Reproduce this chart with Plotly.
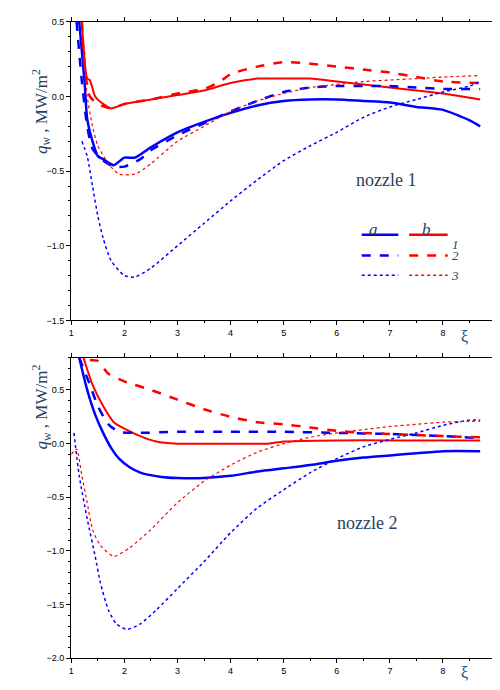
import plotly.graph_objects as go

# ---- nozzle 1 ----
t_a1_x=[1.15,1.25,1.3,1.4,1.5,1.6,1.8,2.0,2.2,2.5,3,3.5,4,4.5,5,5.5,6,6.5,7,7.5,8,8.5,8.7]
t_a1_y=[0.5,0.1,-0.15,-0.3,-0.4,-0.42,-0.46,-0.41,-0.41,-0.34,-0.24,-0.17,-0.11,-0.06,-0.03,-0.02,-0.02,-0.03,-0.04,-0.07,-0.09,-0.16,-0.2]
t_b1_x=[1.2,1.3,1.35,1.45,1.6,1.75,2,2.5,3,3.5,4,4.5,5,5.5,6,6.5,7,7.5,8,8.7]
t_b1_y=[0.5,0.12,0.11,0.0,-0.05,-0.08,-0.05,-0.02,0.01,0.04,0.09,0.12,0.12,0.12,0.1,0.08,0.06,0.04,0.02,-0.02]
t_a2_x=[1.1,1.2,1.3,1.4,1.6,1.8,2.0,2.3,2.5,3,3.5,4,4.5,5,5.5,6,6.5,7,7.5,8,8.7]
t_a2_y=[0.5,0.1,-0.2,-0.35,-0.43,-0.47,-0.47,-0.42,-0.36,-0.26,-0.18,-0.1,-0.03,0.03,0.06,0.07,0.07,0.07,0.06,0.05,0.05]
t_b2_x=[1.2,1.25,1.35,1.5,1.75,2,2.5,3,3.5,3.8,4,4.5,5,5.5,6,6.5,7,7.5,8,8.7]
t_b2_y=[0.5,0.2,0.0,-0.05,-0.08,-0.05,-0.02,0.02,0.05,0.1,0.15,0.2,0.23,0.22,0.2,0.18,0.16,0.13,0.1,0.09]
t_a3_x=[1.2,1.3,1.4,1.5,1.6,1.75,2,2.2,2.5,3,3.5,4,4.5,5,5.5,6,6.5,7,7.5,8,8.5,8.7]
t_a3_y=[-0.3,-0.4,-0.6,-0.8,-0.95,-1.1,-1.2,-1.21,-1.15,-1.0,-0.85,-0.7,-0.56,-0.43,-0.33,-0.24,-0.14,-0.07,-0.02,0.03,0.07,0.1]
t_b3_x=[1.25,1.3,1.4,1.5,1.7,1.9,2.2,2.5,3,3.5,4,4.5,5,5.5,6,6.5,7,7.5,8,8.7]
t_b3_y=[0.3,0.0,-0.2,-0.33,-0.45,-0.52,-0.52,-0.45,-0.3,-0.2,-0.1,-0.03,0.02,0.06,0.08,0.1,0.11,0.12,0.13,0.14]

# ---- nozzle 2 ----
m_a1_x=[1.15,1.3,1.45,1.6,1.75,1.9,2.1,2.3,2.7,3,3.5,4,4.5,5,5.5,6,6.5,7,7.5,8,8.7]
m_a1_y=[0.8,0.5,0.27,0.1,-0.04,-0.14,-0.22,-0.27,-0.31,-0.32,-0.32,-0.3,-0.26,-0.23,-0.2,-0.16,-0.13,-0.11,-0.09,-0.07,-0.07]
m_b1_x=[1.23,1.4,1.6,1.8,2,2.3,2.6,3,4,4.7,5,6,7,8.7]
m_b1_y=[0.8,0.55,0.35,0.2,0.14,0.07,0.02,0.0,0.0,0.0,0.02,0.03,0.03,0.03]
m_a2_x=[1.15,1.35,1.5,1.7,1.9,2.2,3,4,5,6,7,8,8.7]
m_a2_y=[0.8,0.55,0.35,0.18,0.11,0.1,0.11,0.11,0.11,0.1,0.09,0.07,0.05]
m_b2_x=[1.35,1.5,1.7,2,2.5,3,3.5,4,4.5,5,5.5,6,6.5,7,7.5,8,8.7]
m_b2_y=[0.78,0.77,0.65,0.58,0.5,0.41,0.32,0.25,0.2,0.18,0.15,0.12,0.1,0.09,0.08,0.07,0.06]
m_a3_x=[1.05,1.15,1.3,1.45,1.55,1.7,1.85,2.05,2.3,2.6,3,3.5,4,4.5,5,5.5,6,6.5,7,7.5,8,8.5,8.7]
m_a3_y=[0.1,-0.3,-0.7,-1.05,-1.3,-1.55,-1.68,-1.73,-1.68,-1.55,-1.35,-1.1,-0.83,-0.6,-0.43,-0.27,-0.14,-0.03,0.04,0.1,0.17,0.22,0.22]
m_b3_x=[1.0,1.1,1.2,1.3,1.4,1.55,1.8,2.1,2.5,3,3.5,4,4.5,5,5.5,6,6.5,7,7.5,8,8.7]
m_b3_y=[-0.1,-0.05,-0.3,-0.55,-0.8,-0.95,-1.05,-0.97,-0.8,-0.55,-0.35,-0.2,-0.08,0.0,0.06,0.1,0.13,0.16,0.18,0.2,0.21]

BLUE="#0000ff"; RED="#ff0000"
fig=go.Figure()
def add(x,y,c,dash,w,ax):
    fig.add_trace(go.Scatter(x=x,y=y,mode="lines",line=dict(color=c,dash=dash,width=w,shape="spline",smoothing=0.6),
                             xaxis="x" if ax==1 else "x2", yaxis="y" if ax==1 else "y2",showlegend=False,hoverinfo="skip"))
for ax,s in ((1,"t"),(2,"m")):
    g=globals()
    add(g[s+"_a1_x"],g[s+"_a1_y"],BLUE,"solid",2.5,ax)
    add(g[s+"_b1_x"],g[s+"_b1_y"],RED,"solid",2,ax)
    add(g[s+"_a2_x"],g[s+"_a2_y"],BLUE,"dash",2.5,ax)
    add(g[s+"_b2_x"],g[s+"_b2_y"],RED,"dash",2.5,ax)
    add(g[s+"_a3_x"],g[s+"_a3_y"],BLUE,"dot",1.5,ax)
    add(g[s+"_b3_x"],g[s+"_b3_y"],RED,"dot",1.2,ax)

tickf=dict(family="Liberation Sans",size=9,color="black")
common=dict(showline=True,linecolor="black",linewidth=1.2,mirror="ticks",ticks="outside",ticklen=4,
            tickcolor="black",showgrid=False,zeroline=False,tickfont=tickf)
xd=[0.122,0.982]
fig.update_layout(width=500,height=690,margin=dict(l=0,r=0,t=0,b=0),plot_bgcolor="white",paper_bgcolor="white",
    xaxis=dict(domain=xd,range=[1,9],dtick=1,anchor="y",minor=dict(ticks="outside",ticklen=2,tickcolor="black",dtick=0.5),**common),
    yaxis=dict(domain=[0.548,0.987],range=[-1.5,0.5],dtick=0.5,tickformat=".1f",anchor="x",minor=dict(ticks="outside",ticklen=2,tickcolor="black",dtick=0.1),**common),
    xaxis2=dict(domain=xd,range=[1,9],dtick=1,anchor="y2",minor=dict(ticks="outside",ticklen=2,tickcolor="black",dtick=0.5),**common),
    yaxis2=dict(domain=[0.051,0.493],range=[-2.0,0.8],dtick=0.5,tickformat=".1f",anchor="x2",minor=dict(ticks="outside",ticklen=2,tickcolor="black",dtick=0.1),**common))

serif="Liberation Serif"
ytitle="<i>q</i><sub>w</sub> , MW/m<sup>2</sup>"
ann=[
 dict(x=16/500,y=1-55/690,text=ytitle,textangle=-90,font=dict(family=serif,size=17)),
 dict(x=16/500,y=1-400/690,text=ytitle,textangle=-90,font=dict(family=serif,size=17)),
 dict(x=465/500,y=1-328/690,text="ξ",font=dict(family=serif,size=16)),
 dict(x=465/500,y=1-680/690,text="ξ",font=dict(family=serif,size=16)),
 dict(x=412/500,y=1-157/690,text="nozzle 1",font=dict(family=serif,size=18)),
 dict(x=393/500,y=1-530/690,text="nozzle 2",font=dict(family=serif,size=18)),
 dict(x=373/500,y=1-208/690,text="<i>a</i>",font=dict(family=serif,size=17)),
 dict(x=427/500,y=1-208/690,text="<i>b</i>",font=dict(family=serif,size=17)),
]
for i,yy in enumerate((225,246,266)):
    ann.append(dict(x=455/500,y=1-yy/690,text="<i>%d</i>"%(i+1),font=dict(family=serif,size=13)))
for a in ann:
    a.update(xref="paper",yref="paper",showarrow=False)
fig.update_layout(annotations=ann)
shapes=[]
for yy,dash,w in ((225,"solid",2.5),(246,"dash",2.5),(266,"dot",1.5)):
    for x0,x1,c in ((355,392,BLUE),(403,442,RED)):
        shapes.append(dict(type="line",xref="paper",yref="paper",x0=x0/500,x1=x1/500,y0=1-yy/690,y1=1-yy/690,
                           line=dict(color=c,dash=dash,width=w)))
fig.update_layout(shapes=shapes)
fig.write_html("out.html")
